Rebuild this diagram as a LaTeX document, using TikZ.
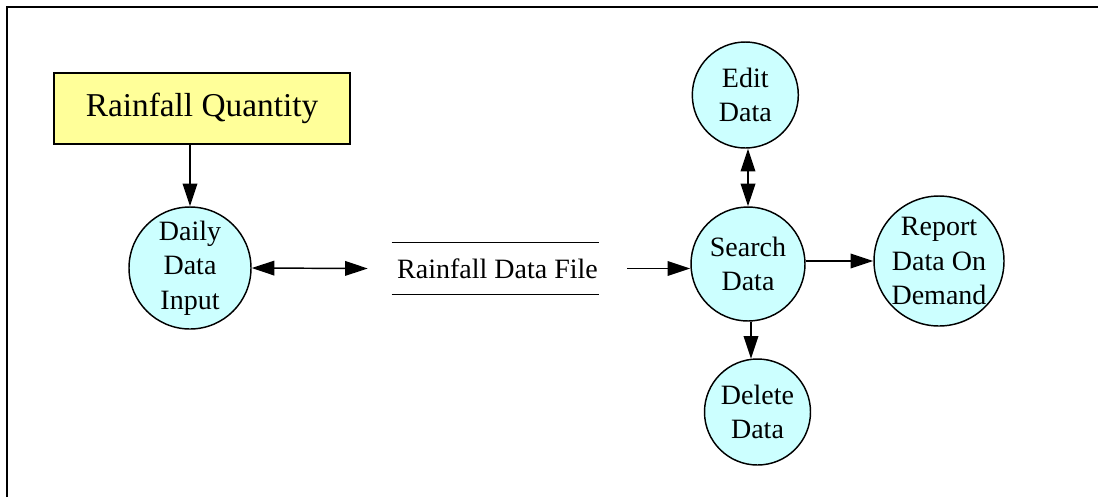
\documentclass[tikz,border=0pt]{standalone}
\usepackage{fontspec}
\setmainfont{Liberation Serif}
\usetikzlibrary{arrows.meta}
\definecolor{procfill}{RGB}{204,255,255}
\definecolor{entfill}{RGB}{255,255,153}
\tikzset{
  proc/.style={circle, draw=black, fill=procfill, line width=1.1pt, inner sep=0pt},
  ptext/.style={font=\fontsize{21}{25.9}\selectfont, align=center, inner sep=0pt},
  entity/.style={rectangle, draw=black, fill=entfill, line width=1.1pt, minimum width=222pt, minimum height=53.25pt, font=\fontsize{25}{30}\selectfont, inner sep=0pt},
  store/.style={minimum width=194.25pt, minimum height=38.25pt, inner sep=0pt, font=\fontsize{21}{25.9}\selectfont},
  conn/.style={line width=1.1pt, -{Triangle[length=17pt,width=11pt]}},
  dconn/.style={line width=1.1pt, {Triangle[length=17pt,width=11pt]}-{Triangle[length=17pt,width=11pt]}},
  frame/.style={line width=1.5pt}
}
\begin{document}
\begin{tikzpicture}[x=0.75pt,y=-0.75pt]
\useasboundingbox (0,0) rectangle (1098,497);
\draw[frame] (7,497) -- (7,7) -- (1098,7);

\node[entity] (rq) at (202,108.5) {Rainfall Quantity};

\node[proc, minimum size=91.5pt] (daily) at (190,268) {};
\node[ptext] (dailyt) at (daily) {Daily\\Data\\Input};

\node[store] (file) at (497.5,268.5) {Rainfall Data File};
\draw[line width=1.1pt] ([xshift=18pt]file.north west) -- ([xshift=-21pt]file.north east);
\draw[line width=1.1pt] ([xshift=18pt]file.south west) -- ([xshift=-21pt]file.south east);

\node[proc, minimum size=79.5pt] (edit) at (745.3,95) {};
\node[ptext] (editt) at (edit) {Edit\\Data};

\node[proc, minimum size=85.5pt] (search) at (748,264) {};
\node[ptext] (searcht) at (search) {Search\\Data};

\node[proc, minimum size=97.5pt] (report) at (939,261) {};
\node[ptext] (reportt) at (report) {Report\\Data On\\Demand};

\node[proc, minimum size=79.5pt] (delete) at (757.5,412) {};
\node[ptext] (deletet) at (delete) {Delete\\Data};

\draw[conn] (daily.north |- rq.south) -- (daily.north);
\draw[dconn] (daily.east) -- (file.west);
\draw[conn] (file.east) -- (file.east -| search.west);
\draw[dconn] (search.north |- edit.south) -- (search.north);
\draw[conn] (report.west -| search.east) -- (report.west);
\draw[conn] (delete.97 |- search.south) -- (delete.97);
\end{tikzpicture}
\end{document}
